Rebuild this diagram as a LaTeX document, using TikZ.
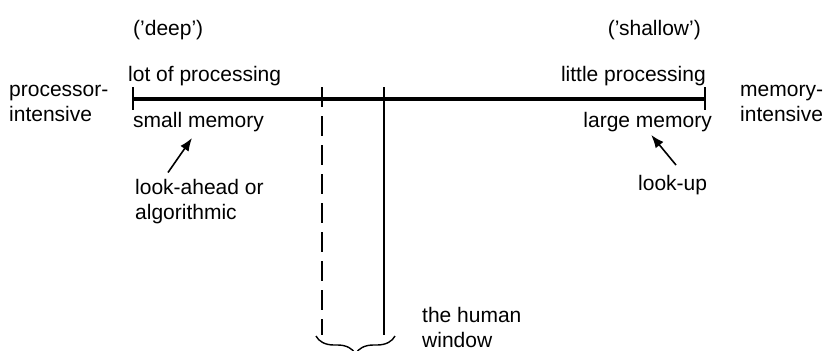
\documentclass[tikz,border=0pt]{standalone}
\usepackage{fontspec}
\setmainfont{Liberation Sans}
\usepackage{tikz}
\usetikzlibrary{arrows.meta,calc,decorations.pathreplacing}

\begin{document}
\begin{tikzpicture}[x=1pt, y=-1pt,
        label/.style={inner sep=0pt, font=\fontsize{21}{25}\selectfont, align=left},
        pointer/.style={-{Latex[length=13pt, width=10pt]}, line width=1.6pt},
        tick/.style={line width=1.4pt}]
        \clip (0,0) rectangle (828,351);

        % the scale
        \coordinate (deepend) at (133,99);
        \coordinate (shallowend) at (705,99);
        \draw[line width=3.8pt] (deepend) -- (shallowend);
        \draw[tick] ($(deepend)+(0,-12)$) -- ($(deepend)+(0,11)$);
        \draw[tick] ($(shallowend)+(0,-12)$) -- ($(shallowend)+(0,11)$);

        % left end
        \node (deep) [label, anchor=west] at (133,30) {('deep')};
        \node (lot) [label, anchor=west] at (128,76) {lot of processing};
        \node (procint) [label, anchor=west] at (9,103) {processor-\\intensive};
        \node (smallmem) [label, anchor=west] at (133,122) {small memory};
        \node (algo) [label, anchor=west] at (135,202) {look-ahead or\\algorithmic};

        % right end
        \node (shallow) [label, anchor=east] at (701,30) {('shallow')};
        \node (little) [label, anchor=east] at (706,76) {little processing};
        \node (largemem) [label, anchor=east] at (712,122) {large memory};
        \node (memint) [label, anchor=west] at (740,103) {memory-\\intensive};
        \node (lookup) [label, anchor=west] at (638,185) {look-up};

        \draw[pointer] ([shift={(33,-7)}]algo.north west) -- ([shift={(59,6)}]smallmem.south west);
        \draw[pointer] ([shift={(38,-10)}]lookup.north west) -- ([shift={(68,3)}]largemem.south west);

        % the human window
        \coordinate (wintop) at (322,87);
        \coordinate (winbot) at (322,335);
        \coordinate (wintopr) at (384,87);
        \coordinate (winbotr) at (384,335);
        \draw[line width=1.4pt, dash pattern=on 20pt off 9pt] (wintop) -- (winbot);
        \draw[line width=1.4pt] (wintopr) -- (winbotr);
        \coordinate (braceL) at (316,336);
        \coordinate (braceR) at (395,336);
        \draw[line width=1.4pt, decorate, decoration={brace, mirror, amplitude=18pt}] (braceL) -- (braceR);
        \node (human) [label, anchor=west] at (422,327) {the human\\window};
    \end{tikzpicture}
\end{document}
